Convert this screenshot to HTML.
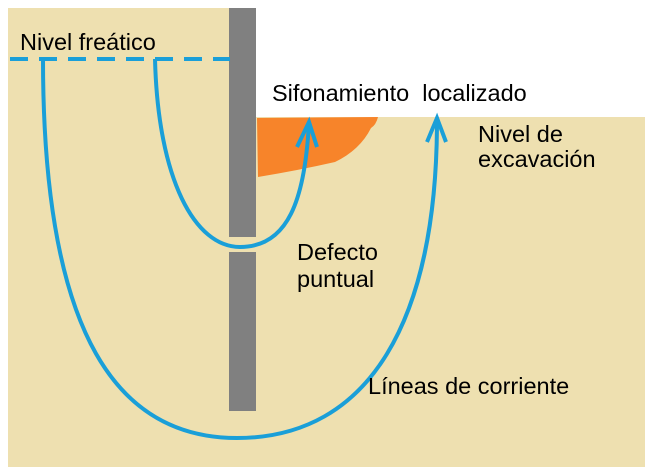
<!DOCTYPE html>
<html><head><style>
html,body{margin:0;padding:0;background:#fff;width:653px;height:474px;overflow:hidden}
svg text{font-family:"Liberation Sans",sans-serif;font-size:23.5px;fill:#000}
</style></head><body>
<svg width="653" height="474" viewBox="0 0 653 474" xmlns="http://www.w3.org/2000/svg">
<rect x="8" y="8" width="224" height="459" fill="#eee0b0"/>
<rect x="232" y="117" width="413" height="350" fill="#eee0b0"/>
<path d="M257 118 L378 117 Q376 125 371 128 Q360 150 335 162 Q300 170 258 177 Z" fill="#f7842a"/>
<rect x="229" y="8" width="27" height="229" fill="#808080"/>
<rect x="229" y="252" width="27" height="159" fill="#808080"/>
<line x1="10" y1="59" x2="230" y2="59" stroke="#1a9fd8" stroke-width="4" stroke-dasharray="18,11"/>
<path d="M43 59 C43 340 120 438 237 438 C370 438 437 320 437 120" fill="none" stroke="#1a9fd8" stroke-width="4"/>
<path d="M155 59 C158 180 195 247 240 247 C288 247 305 200 309 122" fill="none" stroke="#1a9fd8" stroke-width="4"/>
<path d="M297 147 L309 122 L317 147" fill="none" stroke="#1a9fd8" stroke-width="4"/>
<path d="M427 142 L437 118 L446 142" fill="none" stroke="#1a9fd8" stroke-width="4"/>
<text x="20" y="50">Nivel freático</text>
<text x="272" y="101">Sifonamiento&#160;&#160;localizado</text>
<text x="478" y="142">Nivel de</text>
<text x="478" y="167">excavación</text>
<text x="297" y="260">Defecto</text>
<text x="297" y="287">puntual</text>
<text x="368" y="394">Líneas de corriente</text>
</svg>
</body></html>
